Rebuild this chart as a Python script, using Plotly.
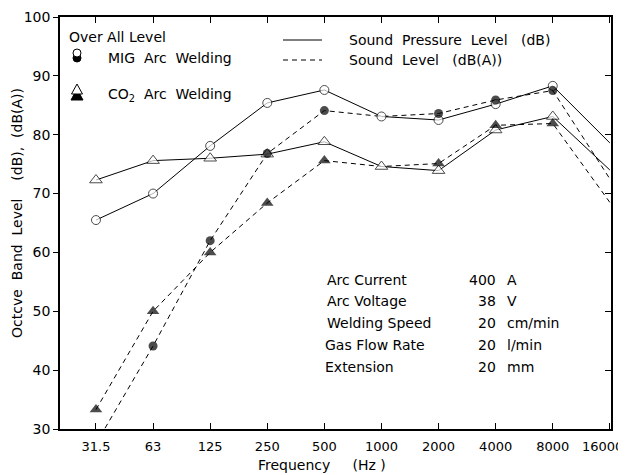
import plotly.graph_objects as go

# ---------------- data ----------------
freq_labels = ["31.5", "63", "125", "250", "500", "1000", "2000", "4000", "8000", "16000"]
mig_spl = [65.5, 70.0, 78.1, 85.4, 87.6, 83.1, 82.5, 85.2, 88.3, 78.6]   # Sound Pressure Level (dB)
mig_dba = [27.5, 44.1, 62.0, 76.8, 84.1, 83.1, 83.6, 85.9, 87.5, 72.5]   # Sound Level (dB(A))
co2_spl = [72.3, 75.6, 76.0, 76.7, 78.8, 74.6, 73.9, 80.8, 83.1, 74.0]
co2_dba = [33.3, 50.0, 60.0, 68.4, 75.6, 74.6, 75.1, 81.6, 81.9, 68.5]

param_names = ["Arc Current", "Arc Voltage", "Welding Speed", "Gas Flow Rate", "Extension"]
param_values = ["400", "38", "20", "20", "20"]
param_units = ["A", "V", "cm/min", "l/min", "mm"]

# ---------------- styles ----------------
FONT = "DejaVu Sans"
OFF = 8                       # default page body margin
W, H = 626 - OFF, 475 - OFF
L, T, R, B = 60, 17, 611, 429  # plot area in page pixels
PW, PH = R - L, B - T
DASH = "5px,4px"
TXT = 14

x_idx = list(range(len(freq_labels)))
# last tick label drawn as a right-aligned text so it is not cut at the page edge
tick_text = freq_labels[:-1] + [""]
# marker sizes (style): no marker drawn at 16000; dB(A) markers hidden where they coincide at 1000
spl_sizes = [9] * 9 + [0]
dba_sizes = [9, 9, 9, 9, 9, 0, 9, 9, 9, 0]
spl_tri_sizes = [11] * 9 + [0]
dba_tri_sizes = [11, 11, 11, 11, 11, 0, 11, 11, 11, 0]


def px(x):
    return (x - L) / PW


def py(y):
    return 1 - (y - T) / PH


fig = go.Figure()

# dashed dB(A) lines (drawn first, underneath)
for vals in (mig_dba, co2_dba):
    fig.add_trace(go.Scatter(x=x_idx, y=vals, mode="lines",
                             line=dict(color="black", width=1, dash=DASH),
                             showlegend=False, hoverinfo="skip"))

# solid SPL lines with open markers
fig.add_trace(go.Scatter(x=x_idx, y=mig_spl, mode="lines+markers",
                         line=dict(color="black", width=1),
                         marker=dict(symbol="circle", size=spl_sizes, color="white",
                                     line=dict(color="black", width=1)),
                         showlegend=False))
fig.add_trace(go.Scatter(x=x_idx, y=co2_spl, mode="lines+markers",
                         line=dict(color="black", width=1),
                         marker=dict(symbol="triangle-up", size=spl_tri_sizes, color="white",
                                     line=dict(color="black", width=1)),
                         showlegend=False))

# filled dB(A) markers on top
fig.add_trace(go.Scatter(x=x_idx, y=mig_dba, mode="markers",
                         marker=dict(symbol="circle", size=dba_sizes, color="black",
                                     line=dict(color="black", width=0)),
                         showlegend=False))
fig.add_trace(go.Scatter(x=x_idx, y=co2_dba, mode="markers",
                         marker=dict(symbol="triangle-up", size=dba_tri_sizes, color="black",
                                     line=dict(color="black", width=0)),
                         showlegend=False))

# overlay y axis on the right for inside ticks
fig.add_trace(go.Scatter(x=[0], y=[30], yaxis="y2", mode="markers",
                         marker=dict(size=0, opacity=0), showlegend=False, hoverinfo="skip"))

shapes = []
annotations = []


def label(text, x, y, anchor="left", size=TXT, angle=0):
    annotations.append(dict(text=text, x=px(x), y=py(y), xref="paper", yref="paper",
                            xanchor=anchor, yanchor="middle", showarrow=False, textangle=angle,
                            font=dict(family=FONT, size=size, color="black")))


# ----- legend (paper coordinates) -----
label("Over All Level", 67, 37)
r = 4
cx = 77
shapes.append(dict(type="circle", xref="paper", yref="paper",
                   x0=px(cx - r), x1=px(cx + r), y0=py(58 + r), y1=py(58 - r),
                   fillcolor="black", line=dict(color="black", width=1)))
shapes.append(dict(type="circle", xref="paper", yref="paper",
                   x0=px(cx - r), x1=px(cx + r), y0=py(53 + r), y1=py(53 - r),
                   fillcolor="white", line=dict(color="black", width=1)))
label("MIG  Arc  Welding", 106, 58)


def tri_path(cx, top, bot, half):
    return (f"M {px(cx)} {py(top)} L {px(cx + half)} {py(bot)} "
            f"L {px(cx - half)} {py(bot)} Z")


shapes.append(dict(type="path", xref="paper", yref="paper", path=tri_path(cx, 89, 100, 6),
                   fillcolor="black", line=dict(color="black", width=1)))
shapes.append(dict(type="path", xref="paper", yref="paper", path=tri_path(cx, 84, 94, 5.5),
                   fillcolor="white", line=dict(color="black", width=1)))
label("CO<sub>2</sub>  Arc  Welding", 106, 95)

shapes.append(dict(type="line", xref="paper", yref="paper", x0=px(283), x1=px(322),
                   y0=py(40), y1=py(40), line=dict(color="black", width=1)))
shapes.append(dict(type="line", xref="paper", yref="paper", x0=px(283), x1=px(322),
                   y0=py(60), y1=py(60), line=dict(color="black", width=1, dash=DASH)))
label("Sound  Pressure  Level   (dB)", 347, 40)
label("Sound  Level   (dB(A))", 347, 60)

# ----- welding conditions table -----
row_y = [280, 301, 323, 345, 367]
name_x = [325, 325, 325, 323, 323]
val_x = [467, 476, 476, 476, 476]
for i in range(len(param_names)):
    label(param_names[i], name_x[i], row_y[i])
    label(param_values[i], val_x[i], row_y[i])
    label(param_units[i], 505, row_y[i])

# ----- last x tick label and axis titles -----
label(freq_labels[-1], 625, 446, anchor="right", size=13)
label("Octcve  Band  Level    (dB),  (dB(A))", 17, 213, anchor="center", angle=-90)
label("Frequency     (Hz )", 322, 465, anchor="center")

fig.update_layout(
    width=W, height=H,
    margin=dict(l=L - OFF, r=626 - R, t=T - OFF, b=475 - B, pad=0, autoexpand=False),
    paper_bgcolor="white", plot_bgcolor="white",
    font=dict(family=FONT, size=13, color="black"),
    showlegend=False,
    shapes=shapes,
    annotations=annotations,
    xaxis=dict(range=[-0.63, 9.02], tickmode="array", tickvals=x_idx, ticktext=tick_text,
               ticks="inside", ticklen=6, tickcolor="black", mirror="ticks", automargin=False,
               ticklabelstandoff=5,
               showline=True, linecolor="black", linewidth=1.5, showgrid=False, zeroline=False,
               tickfont=dict(family=FONT, size=13)),
    yaxis=dict(range=[30, 100], dtick=10, ticks="outside", ticklen=5, tickcolor="black",
               mirror=True, showline=True, linecolor="black", linewidth=1.5, automargin=False,
               showgrid=False, zeroline=False, tickfont=dict(family=FONT, size=14)),
    yaxis2=dict(range=[30, 100], dtick=10, overlaying="y", side="right", ticks="inside",
                ticklen=6, tickcolor="black", showticklabels=False, showgrid=False,
                automargin=False, zeroline=False, showline=False),
)

fig.write_html("out.html")
